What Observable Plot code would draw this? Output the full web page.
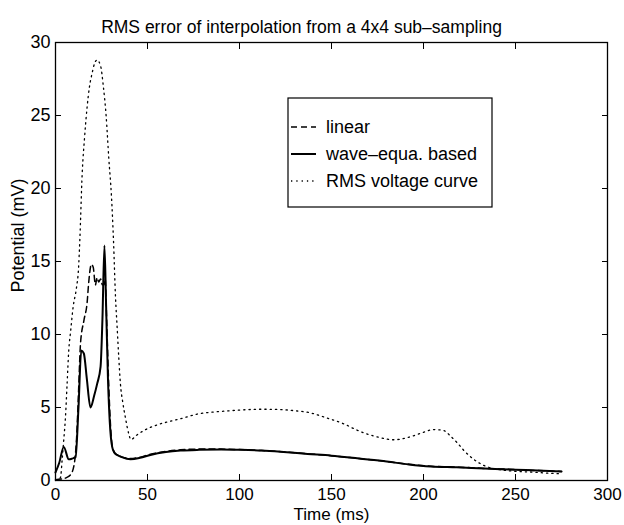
<!DOCTYPE html>
<html>
<head>
<meta charset="utf-8">
<script src="https://cdn.jsdelivr.net/npm/d3@7"></script>
<script src="https://cdn.jsdelivr.net/npm/@observablehq/plot@0.6"></script>
<style>
  html, body { margin: 0; padding: 0; background: white; }
  #chart { width: 624px; height: 525px; }
</style>
</head>
<body>
<div id="chart"></div>
<script>
// ---- Data ----
const titleText = "RMS error of interpolation from a 4x4 sub\u2013sampling";
const xLabel = "Time (ms)";
const yLabel = "Potential (mV)";
const xTicks = [0, 50, 100, 150, 200, 250, 300];
const yTicks = [0, 5, 10, 15, 20, 25, 30];
const seriesNames = ["linear", "wave\u2013equa. based", "RMS voltage curve"];

// linear interpolation error (dashed)
const linearT = [0, 3, 6, 8.2, 10, 11.5, 12.5, 13.6, 15.5, 17.2, 18, 19.5, 20.5, 21.7, 22.6, 23.5, 24.5, 25.5, 26.3, 27, 27.8, 28.8, 29.8, 30.8, 32, 33.5, 36, 40.8, 46, 51.6, 60, 68, 78, 90, 100, 112, 124, 137, 150, 165, 180, 192, 204, 218, 233, 250, 262, 275];
const linearV = [0.05, 0.1, 0.2, 0.4, 1.0, 3, 6, 9.4, 11, 12.2, 13.5, 14.8, 14.6, 13.4, 13.9, 13.6, 13.8, 13.4, 13.4, 13.8, 11, 7, 4, 2.4, 1.95, 1.75, 1.62, 1.5, 1.6, 1.8, 2.0, 2.1, 2.15, 2.15, 2.12, 2.05, 1.96, 1.83, 1.7, 1.5, 1.3, 1.12, 0.98, 0.92, 0.83, 0.75, 0.68, 0.62];

// wave-equation based interpolation error (solid)
const waveT = [0, 2, 4.5, 7.2, 9, 10.9, 12.5, 14, 15.4, 17, 19, 21, 22.6, 24.5, 25.5, 26.6, 27.5, 28.5, 29.5, 30.8, 32, 33.5, 36, 40.8, 46, 51.6, 60, 68, 78, 90, 100, 112, 124, 137, 150, 165, 180, 192, 204, 218, 233, 250, 262, 275];
const waveV = [0.55, 1.2, 2.3, 1.45, 1.5, 1.6, 5, 8.9, 8.7, 7, 5.0, 5.8, 6.6, 7.8, 11, 16.1, 12, 7, 4, 2.3, 1.9, 1.75, 1.6, 1.45, 1.55, 1.75, 1.95, 2.05, 2.1, 2.12, 2.1, 2.05, 1.95, 1.82, 1.7, 1.5, 1.3, 1.1, 0.96, 0.9, 0.82, 0.74, 0.68, 0.62];

// RMS voltage curve (dotted)
const rmsT = [0, 2.7, 3.6, 4.5, 5.4, 6.3, 7.2, 8.2, 9.6, 11.4, 12.5, 13.2, 14.5, 15.8, 17.2, 18.5, 19.9, 21.3, 22.6, 24.5, 26, 27.5, 29, 30.4, 31.5, 32.6, 33.5, 34.4, 35.3, 36.5, 38, 39.8, 41, 44, 48, 55, 62.5, 70, 77, 85, 94, 102, 112, 122, 130, 138.6, 147, 156.7, 163, 169, 176, 184, 190, 195, 200, 205.6, 211, 215, 218, 222, 227, 232.8, 237, 242, 250, 260, 268, 275];
const rmsV = [0, 0.2, 1.4, 2.8, 4.3, 6.6, 8.9, 10.2, 11.9, 13.2, 14.5, 16.4, 21, 23.5, 25.6, 27, 27.9, 28.6, 28.8, 28.4, 27, 25, 22, 19.5, 16.5, 12.6, 10.5, 8.4, 6.6, 5.4, 4.3, 3.2, 2.8, 3.1, 3.42, 3.8, 4.06, 4.3, 4.55, 4.68, 4.77, 4.84, 4.88, 4.86, 4.78, 4.63, 4.3, 3.88, 3.5, 3.2, 2.95, 2.79, 2.9, 3.08, 3.3, 3.49, 3.42, 3.0, 2.63, 2.05, 1.48, 1.03, 0.85, 0.73, 0.63, 0.57, 0.5, 0.46];

// ---- Build tables ----
const linearData = linearT.map((t, i) => ({t, v: linearV[i]}));
const waveData = waveT.map((t, i) => ({t, v: waveV[i]}));
const rmsData = rmsT.map((t, i) => ({t, v: rmsV[i]}));

const FONT = "'Liberation Sans', Arial, Helvetica, sans-serif";
const dashLinear = "6,4";
const dashRms = "1.3,4";
const legendStyles = [
  {dash: dashLinear, width: 1.5},
  {dash: null, width: 2},
  {dash: dashRms, width: 1.3}
];

// Legend drawn as a render-function mark
function legendMark(index, scales, values, dims) {
  const g = d3.create("svg:g");
  const x0 = 288, y0 = 98, w = 204, h = 109;
  g.append("rect").attr("x", x0).attr("y", y0).attr("width", w).attr("height", h)
    .attr("fill", "white").attr("stroke", "black").attr("stroke-width", 1.2);
  const rows = [127, 154, 181];
  seriesNames.forEach((name, i) => {
    const y = rows[i];
    const ln = g.append("line").attr("x1", x0 + 3).attr("x2", x0 + 28)
      .attr("y1", y).attr("y2", y).attr("stroke", "black")
      .attr("stroke-width", legendStyles[i].width);
    if (legendStyles[i].dash) ln.attr("stroke-dasharray", legendStyles[i].dash);
    g.append("text").attr("x", x0 + 38).attr("y", y).attr("dy", "0.35em")
      .attr("text-anchor", "start")
      .attr("font-family", FONT).attr("font-size", 18).attr("fill", "black")
      .text(name);
  });
  return g.node();
}

const chart = Plot.plot({
  width: 624,
  height: 525,
  marginTop: 42,
  marginRight: 17,
  marginBottom: 45,
  marginLeft: 55,
  style: {fontFamily: FONT, fontSize: "18px", color: "black", background: "white", overflow: "visible"},
  x: {domain: [0, 300], label: null},
  y: {domain: [0, 30], label: null},
  marks: [
    Plot.axisX({ticks: xTicks, tickSize: -6, tickPadding: 13, fontSize: 17, label: null, tickFormat: d => String(d)}),
    Plot.axisX({anchor: "top", ticks: xTicks, tickSize: -6, label: null, tickFormat: () => ""}),
    Plot.axisY({ticks: yTicks, tickSize: -6, tickPadding: 11, label: null, tickFormat: d => String(d)}),
    Plot.axisY({anchor: "right", ticks: yTicks, tickSize: -6, label: null, tickFormat: () => ""}),
    Plot.line(rmsData, {x: "t", y: "v", stroke: "black", strokeWidth: 1.3, strokeDasharray: dashRms, curve: "monotone-x"}),
    Plot.line(linearData, {x: "t", y: "v", stroke: "black", strokeWidth: 1.5, strokeDasharray: dashLinear, curve: "monotone-x"}),
    Plot.line(waveData, {x: "t", y: "v", stroke: "black", strokeWidth: 2, curve: "monotone-x"}),
    Plot.frame({stroke: "black", strokeWidth: 1.3}),
    Plot.text([titleText], {frameAnchor: "top", dx: -30, dy: -22, fontSize: 17.5, text: d => d}),
    Plot.text([xLabel], {frameAnchor: "bottom", lineAnchor: "top", dy: 27, fontSize: 17, text: d => d}),
    Plot.text([yLabel], {frameAnchor: "left", dx: -37, dy: 31, rotate: -90, fontSize: 18, text: d => d}),
    legendMark
  ]
});
document.getElementById("chart").appendChild(chart);
</script>
</body>
</html>
